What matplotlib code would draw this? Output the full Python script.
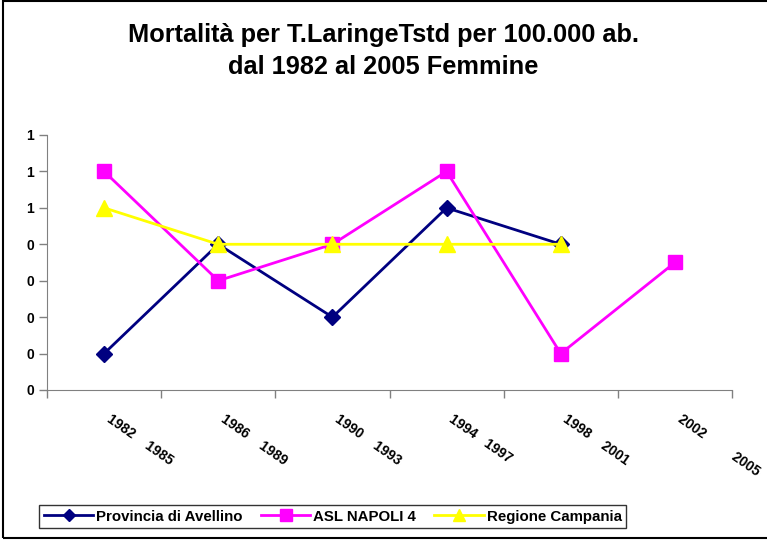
import numpy as np
import matplotlib.pyplot as plt
from matplotlib.patches import Rectangle

plt.rcParams["font.family"] = ["Liberation Sans", "DejaVu Sans"]
plt.rcParams["font.weight"] = "bold"

# DATI

periodi = ["1982    1985", "1986    1989", "1990    1993",
           "1994   1997", "1998    2001", "2002         2005"]

avellino = [0.1, 0.4, 0.2, 0.5, 0.4, np.nan]
asl_napoli4 = [0.6, 0.3, 0.4, 0.6, 0.1, 0.35]
campania = [0.5, 0.4, 0.4, 0.4, 0.4, np.nan]

yticks = [0, 0.1, 0.2, 0.3, 0.4, 0.5, 0.6, 0.7]
ytick_labels = ["0", "0", "0", "0", "0", "1", "1", "1"]


# GRAFICO

fig = plt.figure(figsize=(7.67, 5.4), dpi=100)
ax = fig.add_axes([0.0613, 0.2778, 0.8931, 0.4722])

x = np.arange(len(periodi))

ax.plot(x, avellino, color="#000080", lw=2, marker="D", ms=8,
        label="Provincia di Avellino")
ax.plot(x, asl_napoli4, color="#FF00FF", lw=2, marker="s", ms=10,
        label="ASL NAPOLI 4")
ax.plot(x, campania, color="#FFFF00", lw=2, marker="^", ms=11,
        label="Regione Campania")

ax.set_xlim(-0.5, len(periodi) - 0.5)
ax.set_ylim(0, 0.7)

ax.set_yticks(yticks)
ax.set_yticklabels(ytick_labels, fontsize=10, fontweight="bold")
ax.set_xticks(np.arange(len(periodi) + 1) - 0.5)
ax.set_xticklabels([])

ax.tick_params(axis="both", direction="out", length=6, width=1, color="#808080")
for s in ["top", "right"]:
    ax.spines[s].set_visible(False)
for s in ["left", "bottom"]:
    ax.spines[s].set_color("#808080")

for i, p in enumerate(periodi):
    ax.annotate(p, xy=(i, 0), xycoords=("data", "axes fraction"),
                xytext=(8, -22), textcoords="offset pixels",
                rotation=-35, rotation_mode="anchor", ha="left", va="top",
                fontsize=10, fontweight="bold")

fig.suptitle("Mortalità per T.LaringeTstd per 100.000 ab.\ndal 1982 al 2005 Femmine",
             y=0.957, fontsize=18.3, fontweight="bold", linespacing=1.4)

leg = fig.legend(loc="center", bbox_to_anchor=(0.434, 0.0435), ncol=3,
                 fancybox=False, edgecolor="black", fontsize=10.8,
                 handlelength=3.3, columnspacing=1.2, handletextpad=0.2,
                 borderpad=0.3, borderaxespad=0, markerscale=0.8)
leg.get_frame().set_linewidth(1)

fig.patches.append(Rectangle((3 / 767, 2 / 540), 1.2, 537 / 540,
                             transform=fig.transFigure, fill=False,
                             edgecolor="black", lw=1.5, clip_on=False))

fig.savefig("out.png", dpi=100)
